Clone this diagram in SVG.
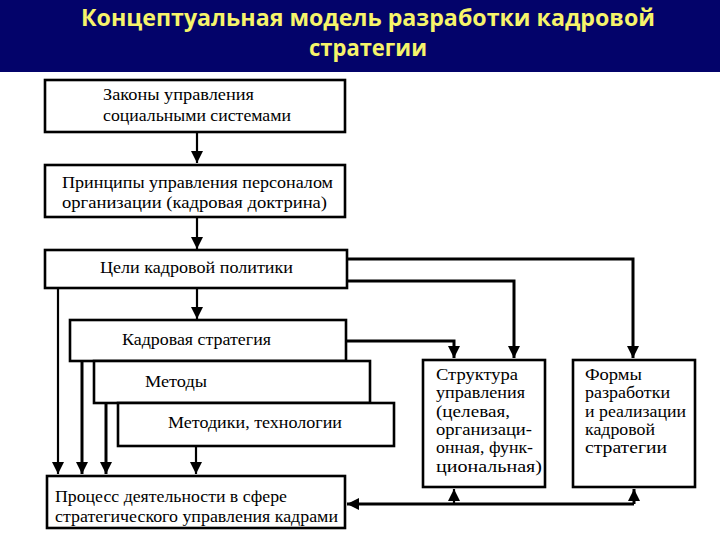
<svg xmlns="http://www.w3.org/2000/svg" width="720" height="540" viewBox="0 0 720 540">
<defs>
<style>
.box{fill:#fff;stroke:#000;stroke-width:2.6}
.c{fill:none;stroke:#000;stroke-width:2.2}
.cb{fill:none;stroke:#000;stroke-width:3}
text.s{font-family:"Liberation Serif",serif}
</style>
<marker id="ah" markerUnits="userSpaceOnUse" markerWidth="12" markerHeight="12" refX="10" refY="5" orient="auto" viewBox="0 0 10 10">
<path d="M0,0 L10,5 L0,10 Z" fill="#000"/>
</marker>
</defs>
<rect x="0" y="0" width="720" height="540" fill="#fff"/>
<g id="header" font-family="'Open Sans', 'Noto Sans', sans-serif" font-weight="bold" font-size="24" fill="#f6f46a">
<rect x="0" y="0" width="720" height="72" fill="#03036a"/>
<text x="368" y="26" text-anchor="middle" textLength="574" lengthAdjust="spacingAndGlyphs">Концептуальная модель разработки кадровой</text>
<text x="368" y="56" text-anchor="middle" textLength="118" lengthAdjust="spacingAndGlyphs">стратегии</text>
</g>
<g id="connectors">
<path class="c" d="M197,132 V163" marker-end="url(#ah)"/>
<path class="c" d="M197,218 V249" marker-end="url(#ah)"/>
<path class="c" d="M197,288 V319" marker-end="url(#ah)"/>
<path class="cb" d="M347,259 H633 V358" marker-end="url(#ah)"/>
<path class="cb" d="M347,281 H514 V358" marker-end="url(#ah)"/>
<path class="cb" d="M346,341 H454 V358" marker-end="url(#ah)"/>
<path class="c" d="M58,288 V474" marker-end="url(#ah)"/>
<path class="cb" d="M82,361 V474" marker-end="url(#ah)"/>
<path class="cb" d="M106,403 V474" marker-end="url(#ah)"/>
<path class="c" d="M196,446 V474" marker-end="url(#ah)"/>
<path class="cb" d="M634,504 H347" marker-end="url(#ah)"/>
<path class="c" d="M454,504 V489" marker-end="url(#ah)"/>
<path class="cb" d="M634,504 V489" marker-end="url(#ah)"/>
</g>
<g font-family="'Liberation Serif', 'DejaVu Serif', serif" font-size="17" fill="#000">
<g id="n-zakony">
<rect class="box" x="45" y="80" width="300" height="52"/>
<text class="s" x="103" y="100" textLength="151" lengthAdjust="spacingAndGlyphs">Законы управления</text>
<text class="s" x="103" y="121" textLength="188" lengthAdjust="spacingAndGlyphs">социальными системами</text>
</g>
<g id="n-principy">
<rect class="box" x="45" y="165" width="300" height="52"/>
<text class="s" x="62" y="188" textLength="271" lengthAdjust="spacingAndGlyphs">Принципы управления персоналом</text>
<text class="s" x="62" y="208" textLength="265" lengthAdjust="spacingAndGlyphs">организации (кадровая доктрина)</text>
</g>
<g id="n-celi">
<rect class="box" x="45" y="250" width="302" height="38"/>
<text class="s" x="100" y="273" textLength="193" lengthAdjust="spacingAndGlyphs">Цели кадровой политики</text>
</g>
<g id="n-kadr-strat">
<rect class="box" x="70" y="320" width="276" height="41"/>
<text class="s" x="122" y="345" textLength="149" lengthAdjust="spacingAndGlyphs">Кадровая стратегия</text>
</g>
<g id="n-metody">
<rect class="box" x="94" y="361" width="276" height="42"/>
<text class="s" x="145" y="387" textLength="62" lengthAdjust="spacingAndGlyphs">Методы</text>
</g>
<g id="n-metodiki">
<rect class="box" x="118" y="403" width="276" height="43"/>
<text class="s" x="168" y="428" textLength="174" lengthAdjust="spacingAndGlyphs">Методики, технологии</text>
</g>
<g id="n-process">
<rect class="box" x="47" y="476" width="298" height="52"/>
<text class="s" x="55" y="502" textLength="232" lengthAdjust="spacingAndGlyphs">Процесс деятельности в сфере</text>
<text class="s" x="55" y="522" textLength="283" lengthAdjust="spacingAndGlyphs">стратегического управления кадрами</text>
</g>
<g id="n-struktura">
<rect class="box" x="423" y="360" width="122" height="127"/>
<text class="s" x="436" y="380" textLength="82" lengthAdjust="spacingAndGlyphs">Структура</text>
<text class="s" x="436" y="398" textLength="89" lengthAdjust="spacingAndGlyphs">управления</text>
<text class="s" x="436" y="417" textLength="74" lengthAdjust="spacingAndGlyphs">(целевая,</text>
<text class="s" x="436" y="435" textLength="96" lengthAdjust="spacingAndGlyphs">организаци-</text>
<text class="s" x="436" y="453" textLength="97" lengthAdjust="spacingAndGlyphs">онная, функ-</text>
<text class="s" x="436" y="472" textLength="106" lengthAdjust="spacingAndGlyphs">циональная)</text>
</g>
<g id="n-formy">
<rect class="box" x="573" y="360" width="122" height="127"/>
<text class="s" x="585" y="380" textLength="57" lengthAdjust="spacingAndGlyphs">Формы</text>
<text class="s" x="585" y="398" textLength="85" lengthAdjust="spacingAndGlyphs">разработки</text>
<text class="s" x="585" y="417" textLength="101" lengthAdjust="spacingAndGlyphs">и реализации</text>
<text class="s" x="585" y="435" textLength="70" lengthAdjust="spacingAndGlyphs">кадровой</text>
<text class="s" x="585" y="453" textLength="82" lengthAdjust="spacingAndGlyphs">стратегии</text>
</g>
</g>
</svg>
